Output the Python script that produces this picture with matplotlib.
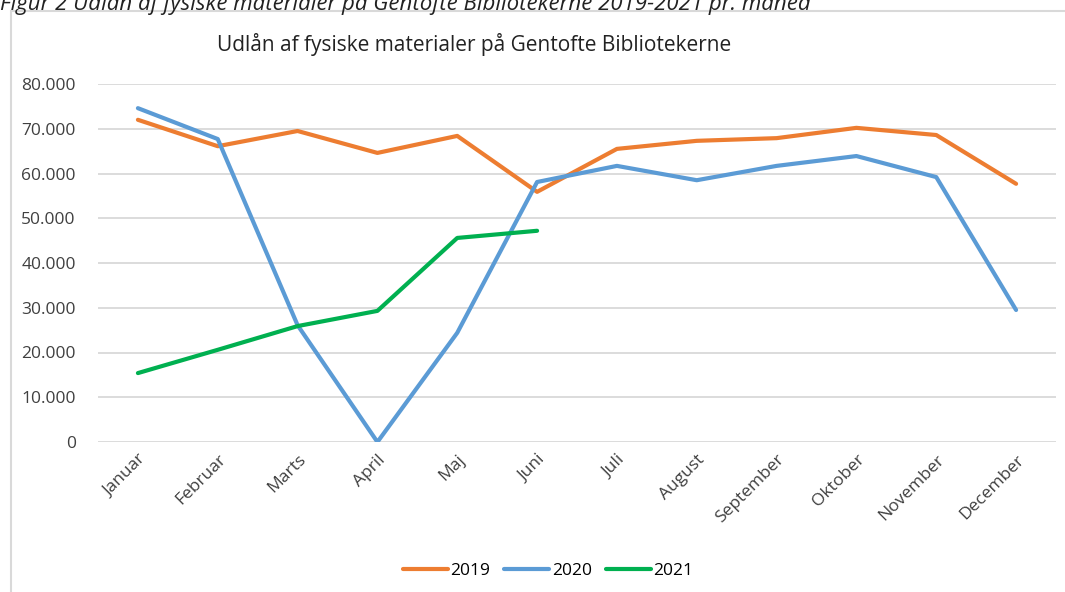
import matplotlib.pyplot as plt
from matplotlib.patches import Rectangle
from matplotlib.ticker import FuncFormatter

plt.rcParams['font.family'] = ['Open Sans', 'DejaVu Sans']

months = ['Januar', 'Februar', 'Marts', 'April', 'Maj', 'Juni', 'Juli',
          'August', 'September', 'Oktober', 'November', 'December']
loans_2019 = [72000, 66100, 69500, 64600, 68400, 55900, 65500, 67300, 67900, 70200, 68600, 57700]
loans_2020 = [74600, 67700, 26100, 0, 24400, 58100, 61700, 58500, 61700, 63900, 59200, 29500]
loans_2021 = [15400, 20600, 25900, 29300, 45600, 47200]

W, H = 1065, 592
fig = plt.figure(figsize=(W / 100, H / 100), dpi=100)

# chart frame (cut off at right / bottom like the screenshot)
fig.patches.append(Rectangle((11 / W, -0.1), 1.2, 1 - 11 / H + 0.1,
                             transform=fig.transFigure, fill=False,
                             edgecolor='#d9d9d9', linewidth=1.5))

# caption above the frame, clipped at the top
fig.text(0.0, 1 - 3 / H,
         'Figur 2 Udlån af fysiske materialer på Gentofte Bibliotekerne 2019-2021 pr. måned',
         fontsize=16, style='italic', ha='left', va='center', color='#222222')

ax = fig.add_axes([98 / W, 1 - 442 / H, (1056 - 98) / W, (442 - 84) / H])

x = range(len(months))
ax.plot(x, loans_2019, color='#ED7D31', lw=3, solid_capstyle='round', label='2019')
ax.plot(x, loans_2020, color='#5B9BD5', lw=3, solid_capstyle='round', label='2020')
ax.plot(range(len(loans_2021)), loans_2021, color='#00B050', lw=3,
        solid_capstyle='round', label='2021')

ax.set_xlim(-0.5, len(months) - 0.5)
ax.set_ylim(0, 80000)
ax.set_yticks(range(0, 80001, 10000))
ax.yaxis.set_major_formatter(FuncFormatter(lambda v, p: f'{int(v):,}'.replace(',', '.')))
ax.grid(axis='y', color='#d9d9d9', lw=1.3)
ax.set_axisbelow(True)
for s in ax.spines.values():
    s.set_visible(False)
ax.tick_params(axis='both', length=0, labelsize=12.5, colors='#404040')
ax.tick_params(axis='y', pad=16)
ax.set_xticks(list(x))
ax.set_xticklabels(months, rotation=45, ha='right', rotation_mode='anchor')
ax.tick_params(axis='x', pad=7)

fig.text(474 / W, 1 - 44 / H, 'Udlån af fysiske materialer på Gentofte Bibliotekerne',
         fontsize=15, ha='center', va='center', color='#222222')

fig.legend(loc='center', bbox_to_anchor=(548 / W, 1 - 571 / H), ncol=3,
           frameon=False, fontsize=12.5, handlelength=2.6, handletextpad=0.15,
           columnspacing=0.8)

fig.savefig('out.png', dpi=100)
